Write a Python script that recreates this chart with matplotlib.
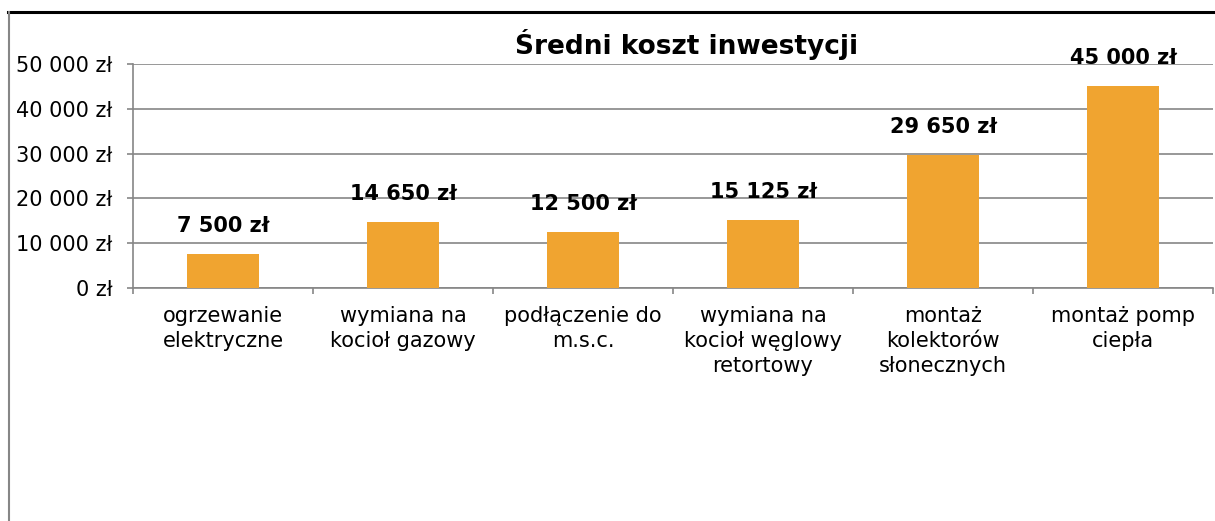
import matplotlib
matplotlib.use('Agg')
import matplotlib.pyplot as plt
from matplotlib.lines import Line2D
from matplotlib.ticker import FuncFormatter
import numpy as np

categories = [
    "ogrzewanie\nelektryczne",
    "wymiana na\nkocioł gazowy",
    "podłączenie do\nm.s.c.",
    "wymiana na\nkocioł węglowy\nretortowy",
    "montaż\nkolektorów\nsłonecznych",
    "montaż pomp\nciepła",
]
costs = [7500, 14650, 12500, 15125, 29650, 45000]
yticks = [0, 10000, 20000, 30000, 40000, 50000]


def pln(v):
    return f"{int(v):,}".replace(",", " ") + " zł"


plt.rcParams['font.family'] = ['DejaVu Sans']
grid_col = '#868686'

fig = plt.figure(figsize=(12.15, 5.21), dpi=100)
ax = fig.add_axes([133 / 1215, 233 / 521, 1080 / 1215, 224 / 521])

x = np.arange(len(categories))
ax.bar(x, costs, width=0.4, color='#F0A430', zorder=3)

for xi, v in zip(x, costs):
    ax.annotate(pln(v), (xi, v), xytext=(0, 20.5), textcoords='offset points',
                ha='center', va='center', fontsize=15, fontweight='bold')

ax.set_xlim(-0.5, len(categories) - 0.5)
ax.set_ylim(0, 50000)
ax.set_yticks(yticks)
ax.yaxis.set_major_formatter(FuncFormatter(lambda v, p: pln(v)))
ax.yaxis.grid(True, color=grid_col, linewidth=1.2, zorder=0)

ax.set_xticks(x)
ax.set_xticklabels(categories, fontsize=15, linespacing=1.32)
ax.set_xticks(np.arange(-0.5, len(categories)), minor=True)
ax.tick_params(axis='x', which='major', length=0, pad=13)
ax.tick_params(axis='x', which='minor', length=4.5, color=grid_col, width=1.2)
ax.tick_params(axis='y', length=4.5, color=grid_col, width=1.2, labelsize=15, pad=10.5)

for s in ['top', 'right']:
    ax.spines[s].set_visible(False)
for s in ['left', 'bottom']:
    ax.spines[s].set_color(grid_col)
    ax.spines[s].set_linewidth(1.2)

fig.text(687 / 1215, 1 - 45 / 521, "Średni koszt inwestycji", ha='center', va='center',
         fontsize=19, fontweight='bold')

# chart border fragments
fig.add_artist(Line2D([8 / 1215, 1], [1 - 11.5 / 521] * 2, color='black', linewidth=2.2))
fig.add_artist(Line2D([9 / 1215] * 2, [0, 1 - 11.5 / 521], color=grid_col, linewidth=1.5))

fig.savefig("out.png", dpi=100)
